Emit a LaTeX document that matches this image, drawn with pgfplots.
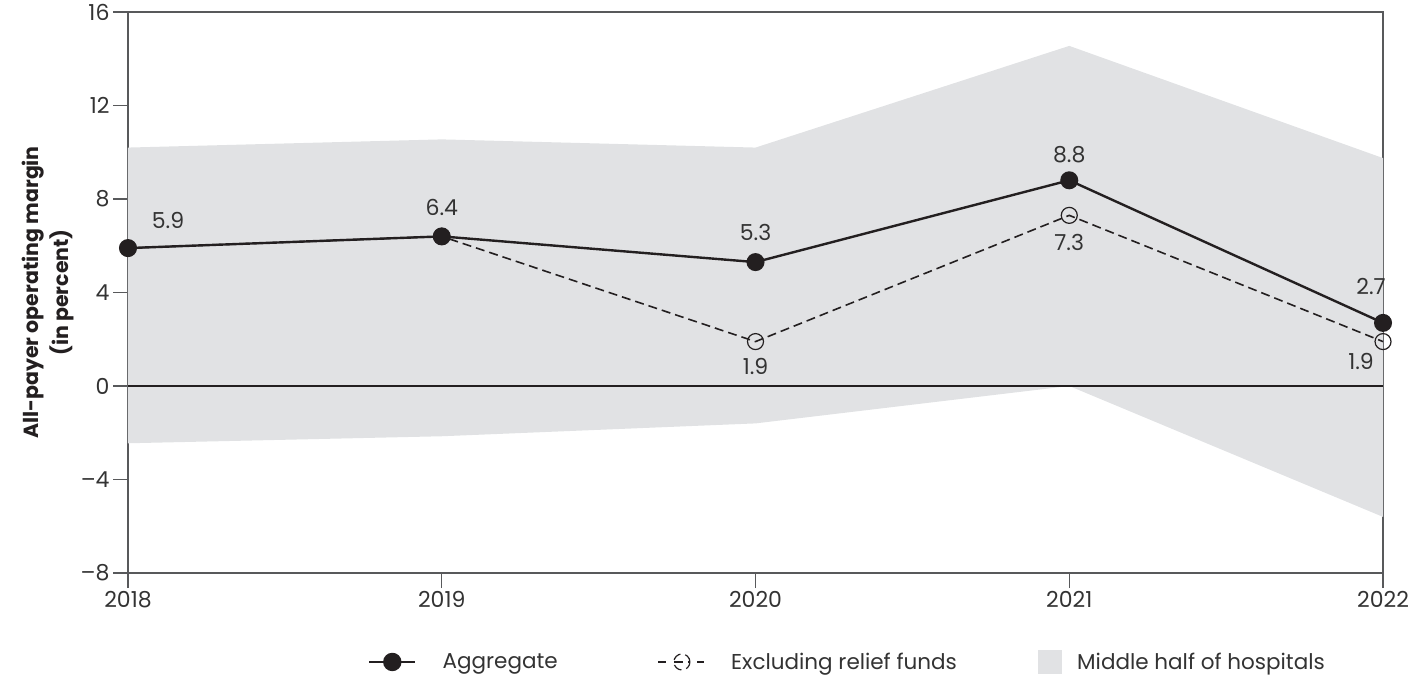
\documentclass[border=0pt]{standalone}
\usepackage{fontspec}
\setmainfont{Poppins}
\usepackage{pgfplots}
\pgfplotsset{compat=1.18}
\definecolor{bandgray}{HTML}{E1E2E4}
\definecolor{ink}{HTML}{231F20}
\definecolor{axgray}{HTML}{58595B}
\definecolor{txt}{HTML}{333333}

\begin{document}
\begin{tikzpicture}[font=\fontsize{21.5bp}{25bp}\selectfont]
\path[use as bounding box] (-128bp,-102bp) rectangle (1294bp,573bp);
\begin{axis}[
  at={(0,0)}, anchor=south west,
  scale only axis, width=1255bp, height=561bp,
  xmin=2018, xmax=2022, ymin=-8, ymax=16,
  xtick={2018,2019,2020,2021,2022},
  xticklabels={2018,2019,2020,2021,2022},
  ytick={-8,-4,0,4,8,12,16},
  yticklabels={\textendash8,\textendash4,0,4,8,12,16},
  /pgf/number format/assume math mode=true,
  tick align=outside, tick pos=left,
  major tick length=15bp,
  axis line style={axgray, line width=1.3bp},
  every tick/.style={axgray, line width=1.3bp},
  tick label style={text=txt, font=\fontsize{22bp}{25bp}\selectfont},
  ylabel={All-payer operating margin\\(in percent)},
  ylabel style={align=center, font=\fontsize{20.5bp}{30bp}\selectfont\bfseries, text=ink},
  legend columns=3,
  reverse legend,
  legend style={draw=none, fill=none, inner sep=0pt, outer sep=0pt,
    at={(0.19124,-0.1586)}, anchor=west,
    nodes={inner sep=0pt, outer sep=0pt},
    font=\fontsize{21.5bp}{25bp}\selectfont, text=txt,
    /tikz/every odd column/.append style={column sep=26bp},
    /tikz/every even column/.append style={column sep=0bp}},
  clip=false,
]
% middle half band
\addplot[draw=none, fill=bandgray,
  legend image code/.code={
    \path (0bp,0bp) -- (13bp,0bp);
    \fill[bandgray, overlay] (0bp,-12bp) rectangle (24bp,12bp);}]
  coordinates {(2018,10.2) (2019,10.55) (2020,10.2) (2021,14.55) (2022,9.75)
               (2022,-5.6) (2021,0.0) (2020,-1.6) (2019,-2.15) (2018,-2.45)} -- cycle;
% zero line
\addplot[forget plot, ink, line width=1.3bp] coordinates {(2018,0) (2022,0)};
% excluding relief funds
\addplot[ink, line width=1.6bp, dash pattern=on 9bp off 5bp,
  mark=o, mark size=8bp, mark options={solid, line width=1.2bp, fill=none},
  legend image code/.code={
    \draw[ink, line width=1.6bp] (0bp,0bp) -- (8bp,0bp);
    \draw[ink, line width=1.6bp] (15.5bp,0bp) -- (31.5bp,0bp);
    \draw[ink, line width=1.6bp] (39bp,0bp) -- (46bp,0bp);
    \draw[ink, line width=1.2bp] (23.5bp,0bp) circle (8bp);}]
  coordinates {(2018,5.9) (2019,6.4) (2020,1.9) (2021,7.3) (2022,1.9)};
% aggregate
\addplot[ink, line width=2.4bp, mark=*, mark size=7.8bp, mark options={solid, fill=ink, draw=ink},
  legend image code/.code={
    \draw[ink, line width=2.6bp] (0bp,0bp) -- (46bp,0bp);
    \fill[ink] (23bp,0bp) circle (8bp);}]
  coordinates {(2018,5.9) (2019,6.4) (2020,5.3) (2021,8.8) (2022,2.7)};
\legend{Middle half of hospitals,\makebox[307bp][l]{Excluding relief funds},\makebox[215bp][l]{Aggregate}}
% value labels
\begin{scope}[every node/.style={text=txt, font=\fontsize{22bp}{25bp}\selectfont}]
\node[xshift=40bp, yshift=28bp] at (axis cs:2018,5.9) {5.9};
\node[yshift=29bp] at (axis cs:2019,6.4) {6.4};
\node[yshift=30bp] at (axis cs:2020,5.3) {5.3};
\node[yshift=26bp] at (axis cs:2021,8.8) {8.8};
\node[xshift=-12bp, yshift=36bp] at (axis cs:2022,2.7) {2.7};
\node[yshift=-25bp] at (axis cs:2020,1.9) {1.9};
\node[yshift=-27bp] at (axis cs:2021,7.3) {7.3};
\node[xshift=-22bp, yshift=-20bp] at (axis cs:2022,1.9) {1.9};
\end{scope}
\end{axis}
\end{tikzpicture}
\end{document}
